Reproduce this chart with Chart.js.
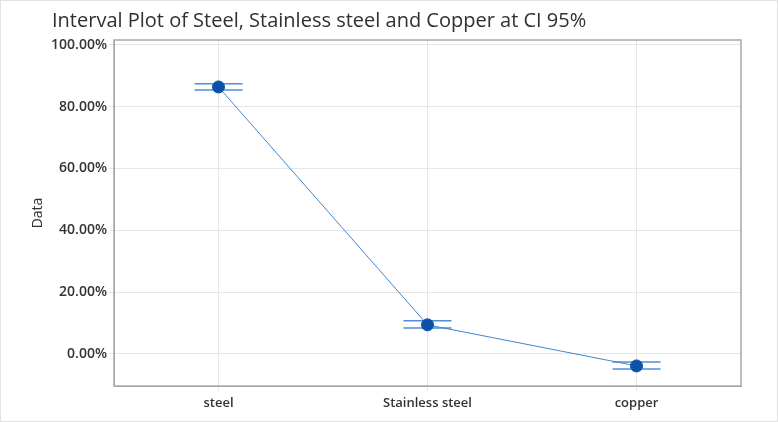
<!DOCTYPE html>
<html>
<head>
<meta charset="utf-8">
<script src="https://cdn.jsdelivr.net/npm/chart.js@4.4.1/dist/chart.umd.min.js"></script>
<style>
  body { margin: 0; background: #fff; }
  #wrap { position: relative; width: 778px; height: 422px; box-sizing: border-box; border: 1px solid #e2e2e2; }
  #wrap canvas { position: absolute; left: -1px; top: -1px; }
  #titulo { position: absolute; left: 51px; top: 5px; font-family: "Open Sans", sans-serif; font-size: 20px; color: #303030; }
</style>
</head>
<body>
<div id="wrap">
  <canvas id="myChart" width="778" height="422"></canvas>
  <div id="titulo">Interval Plot of Steel, Stainless steel and Copper at CI 95%</div>
</div>
<script>
// dados (em %)
var categorias = ['steel', 'Stainless steel', 'copper'];
var medias = [86.4, 9.4, -3.9];
var limiteSup = [87.4, 10.7, -2.6];
var limiteInf = [85.4, 8.4, -4.9];
var ticksY = [0, 20, 40, 60, 80, 100];

// barras do intervalo (atras dos pontos) + moldura da area do grafico
const barrasIntervalo = {
  id: 'barrasIntervalo',
  beforeDatasetsDraw(chart) {
    const ctx = chart.ctx;
    const x = chart.scales.x;
    const y = chart.scales.y;
    ctx.save();
    ctx.strokeStyle = '#4f8fd6';
    ctx.lineWidth = 1.5;
    for (var i = 0; i < categorias.length; i++) {
      var px = x.getPixelForValue(i);
      var ys = y.getPixelForValue(limiteSup[i]);
      var yi = y.getPixelForValue(limiteInf[i]);
      ctx.beginPath();
      ctx.moveTo(px - 24, ys); ctx.lineTo(px + 24, ys);
      ctx.moveTo(px - 24, yi); ctx.lineTo(px + 24, yi);
      ctx.moveTo(px, ys); ctx.lineTo(px, yi);
      ctx.stroke();
    }
    ctx.restore();
  },
  afterDraw(chart) {
    const a = chart.chartArea;
    const ctx = chart.ctx;
    ctx.save();
    ctx.strokeStyle = '#a8a8a8';
    ctx.lineWidth = 1.5;
    ctx.strokeRect(a.left, a.top, a.right - a.left, a.bottom - a.top);
    ctx.restore();
  }
};

const ctx = document.getElementById('myChart');

new Chart(ctx, {
  type: 'line',
  data: {
    labels: categorias,
    datasets: [{
      label: 'Data',
      data: medias,
      borderColor: '#3f86d2',
      borderWidth: 1,
      pointBackgroundColor: '#0b52a8',
      pointBorderColor: '#0b52a8',
      pointRadius: 6,
      tension: 0
    }]
  },
  options: {
    responsive: false,
    animation: false,
    layout: { padding: { top: 40, right: 37, left: 30, bottom: 0 } },
    plugins: {
      legend: { display: false },
      tooltip: { enabled: false }
    },
    scales: {
      x: {
        offset: true,
        border: { color: '#a8a8a8' },
        grid: { color: '#e6e6e6', offset: false, tickLength: 5 },
        ticks: { color: '#333', font: { family: 'Open Sans', size: 13, weight: '600' }, padding: 4 },
        afterFit: function (s) { s.height = 36; }
      },
      y: {
        min: -10.4,
        max: 101.6,
        border: { color: '#a8a8a8' },
        grid: { color: '#e6e6e6', tickLength: 5 },
        afterBuildTicks: function (s) { s.ticks = ticksY.map(function (v) { return { value: v }; }); },
        ticks: {
          color: '#333',
          font: { family: 'Open Sans', size: 14, weight: '600' },
          padding: 2,
          callback: function (v) { return v.toFixed(2) + '%'; }
        },
        title: { display: true, text: 'Data', color: '#333', font: { family: 'Open Sans', size: 14 }, padding: 0 },
        afterFit: function (s) { s.width = 84; }
      }
    }
  },
  plugins: [barrasIntervalo]
});
</script>
</body>
</html>
